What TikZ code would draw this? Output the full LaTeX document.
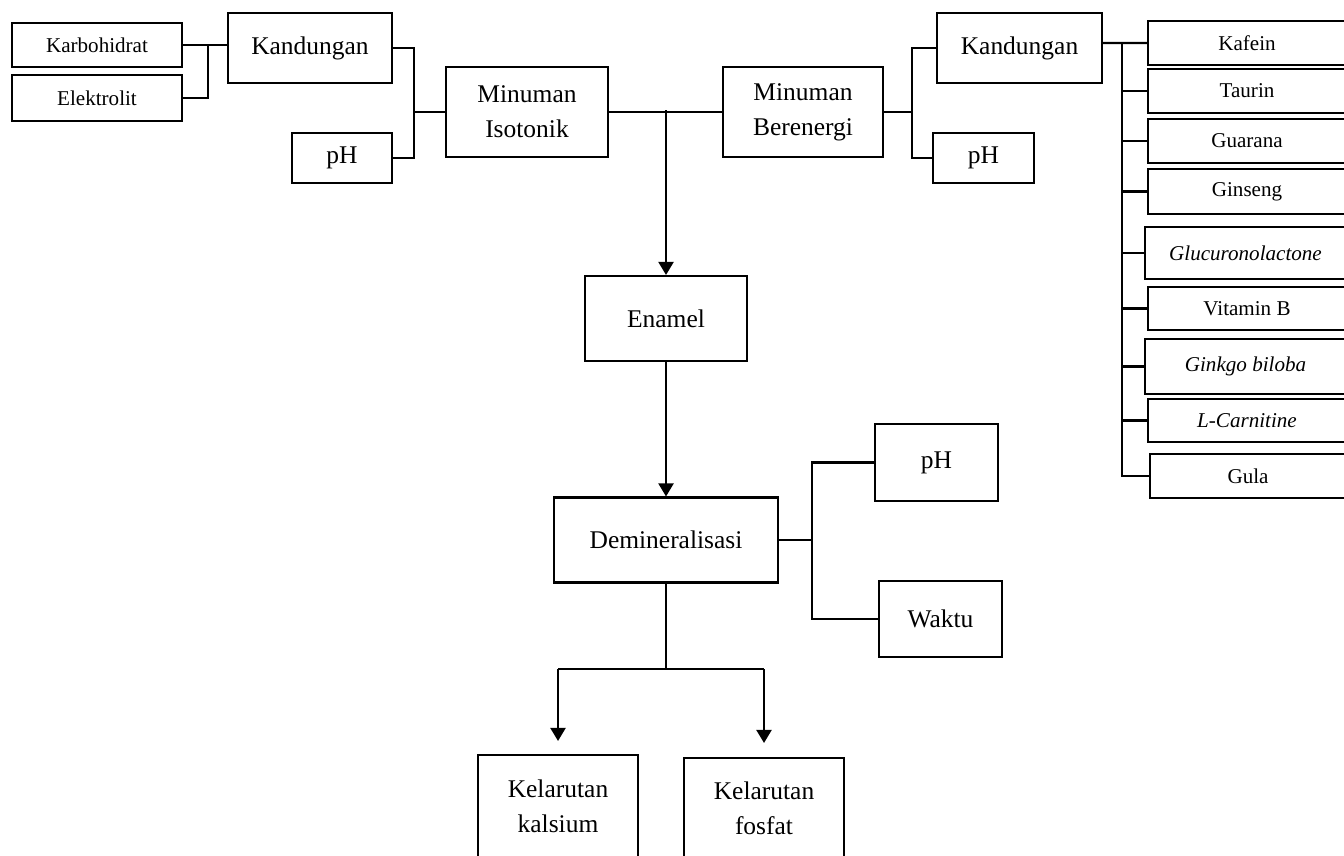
\documentclass[tikz,border=0pt]{standalone}
\usepackage{fontspec}
\setmainfont{Liberation Serif}
\usetikzlibrary{arrows.meta}
\newcommand{\bigtxt}{\fontsize{14.5}{20}\selectfont}
\newcommand{\smalltxt}{\fontsize{12}{15}\selectfont}
\begin{document}
\begin{tikzpicture}[x=0.02cm, y=-0.02cm, line width=1.2pt,
    box/.style={draw, inner sep=0pt, align=center, font=\bigtxt},
    sbox/.style={box, font=\smalltxt},
    arr/.style={-{Triangle[length=2.6mm,width=3mm]}}]
    \useasboundingbox (0,0) rectangle (1344,855);
    % isotonik side
    \node [sbox, minimum width=3.4cm, minimum height=0.88cm] (karbo) at (97,45) {Karbohidrat};
    \node [sbox, minimum width=3.4cm, minimum height=0.92cm] (elektro) at (97,98) {Elektrolit};
    \node [box, minimum width=3.28cm, minimum height=1.4cm] (kandL) at (310,48) {Kandungan};
    \node [box, minimum width=2cm, minimum height=1cm] (phL) at (342,158) {pH};
    \node [box, minimum width=3.24cm, minimum height=1.8cm] (iso) at (527,112) {Minuman\\Isotonik};
    % berenergi side
    \node [box, minimum width=3.2cm, minimum height=1.8cm] (ber) at (803,112) {Minuman\\Berenergi};
    \node [box, minimum width=3.3cm, minimum height=1.4cm] (kandR) at (1019.5,48) {Kandungan};
    \node [box, minimum width=2.02cm, minimum height=1cm] (phR) at (983.5,158) {pH};
    \node [sbox, minimum width=3.96cm, minimum height=0.88cm] (kafein) at (1247,43) {Kafein};
    \node [sbox, minimum width=3.96cm, minimum height=0.88cm] (taurin) at (1247,91) {Taurin};
    \node [sbox, minimum width=3.96cm, minimum height=0.88cm] (guarana) at (1247,141) {Guarana};
    \node [sbox, minimum width=3.96cm, minimum height=0.9cm] (ginseng) at (1247,191.5) {Ginseng};
    \node [sbox, minimum width=4.02cm, minimum height=1.04cm] (gluc) at (1245.5,253) {\textit{Glucuronolactone}};
    \node [sbox, minimum width=3.96cm, minimum height=0.86cm] (vitb) at (1247,308.5) {Vitamin B};
    \node [sbox, minimum width=4.02cm, minimum height=1.1cm] (ginkgo) at (1245.5,366.5) {\textit{Ginkgo biloba}};
    \node [sbox, minimum width=3.96cm, minimum height=0.86cm] (lcarn) at (1247,420.5) {\textit{L-Carnitine}};
    \node [sbox, minimum width=3.92cm, minimum height=0.88cm] (gula) at (1248,476) {Gula};
    % middle column
    \node [box, minimum width=3.24cm, minimum height=1.7cm] (enamel) at (666,318.5) {Enamel};
    \node [box, minimum width=4.48cm, minimum height=1.7cm] (demin) at (666,540) {Demineralisasi};
    \node [box, minimum width=2.46cm, minimum height=1.54cm] (phD) at (936.5,462.5) {pH};
    \node [box, minimum width=2.46cm, minimum height=1.52cm] (waktu) at (940.5,619) {Waktu};
    \node [box, minimum width=3.2cm, minimum height=2.06cm] (kalsium) at (558,806.5) {Kelarutan\\kalsium};
    \node [box, minimum width=3.2cm, minimum height=2cm] (fosfat) at (764,808) {Kelarutan\\fosfat};
    % junctions
    \coordinate (kx) at (208,45);
    \coordinate (lx) at (414,112);
    \coordinate (bx) at (912,112);
    \coordinate (rt) at (1122,43);
    \coordinate (jtop) at (666,110);
    \coordinate (dx) at (812,540);
    \coordinate (bj) at (666,669);
    \coordinate (bjL) at (558,669);
    \coordinate (bjR) at (764,669);
    % connectors
    \draw (karbo.east) -- (kandL.west |- karbo.east);
    \draw (elektro.east) -| (kx);
    \draw (kandL.east) -| (lx) |- (phL.east);
    \draw (lx) -- (iso.west);
    \draw (iso.east) -- (ber.west);
    \draw (ber.east) -- (bx);
    \draw (kandR.west) -| (bx) |- (phR.west);
    \draw ([yshift=1mm]kandR.east) -- (kafein.west);
    \draw (rt) |- (gula.west);
    \foreach \n in {taurin,guarana,ginseng,gluc,vitb,ginkgo,lcarn}
        \draw (\n.west) -- (\n.west -| rt);
    \draw [arr] (jtop) -- (enamel.north);
    \draw [arr] (enamel.south) -- (demin.north);
    \draw (demin.east) -- (dx);
    \draw (phD.west) -| (dx) |- (waktu.west);
    \draw (demin.south) -- (bj);
    \draw (bjL) -- (bjR);
    \draw [arr, shorten >=0.26cm] (bjL) -- (kalsium.north);
    \draw [arr, shorten >=0.28cm] (bjR) -- (fosfat.north);
\end{tikzpicture}
\end{document}
